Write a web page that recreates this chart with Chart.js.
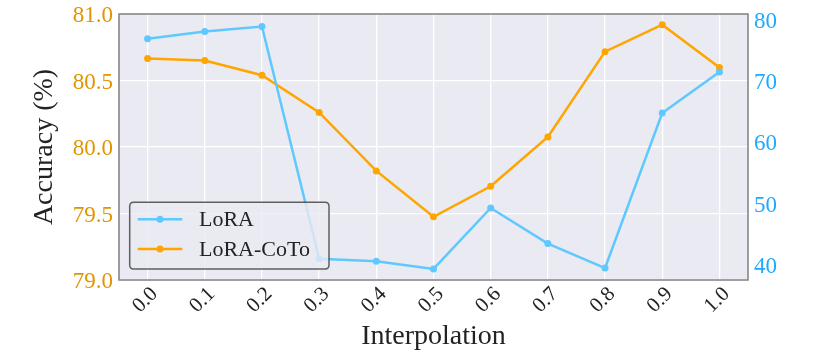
<!DOCTYPE html>
<html>
<head>
<meta charset="utf-8">
<script src="https://cdn.jsdelivr.net/npm/chart.js@4.4.1/dist/chart.umd.min.js"></script>
<style>
  html, body { margin: 0; padding: 0; background: #ffffff; }
  #wrap { width: 826px; height: 356px; }
</style>
</head>
<body>
<div id="wrap"><canvas id="c" width="826" height="356"></canvas></div>
<script>
// ---- data ----
const interpolation = ['0.0', '0.1', '0.2', '0.3', '0.4', '0.5', '0.6', '0.7', '0.8', '0.9', '1.0'];
const loraAccuracy = [76.9, 78.1, 78.9, 41.0, 40.6, 39.35, 49.3, 43.5, 39.5, 64.8, 71.5];
const loraCotoAccuracy = [80.665, 80.65, 80.54, 80.26, 79.82, 79.475, 79.705, 80.075, 80.717, 80.92, 80.597];
const leftTicks = [79.0, 79.5, 80.0, 80.5, 81.0];
const rightTicks = [40, 50, 60, 70, 80];
const seriesNames = ['LoRA', 'LoRA-CoTo'];

const FONT = "'Liberation Serif', 'Times New Roman', serif";
const BLUE = '#5FC8FF';
const ORANGE = '#FFA500';

const bgPlugin = {
  id: 'bg',
  beforeDraw(chart) {
    const { ctx, chartArea: a } = chart;
    ctx.save();
    ctx.fillStyle = '#EAEAF2';
    ctx.fillRect(a.left, a.top, a.right - a.left, a.bottom - a.top);
    ctx.restore();
  },
  afterDatasetsDraw(chart) {
    const { ctx, chartArea: a } = chart;
    ctx.save();
    ctx.strokeStyle = '#808080';
    ctx.lineWidth = 1.5;
    ctx.strokeRect(a.left, a.top, a.right - a.left, a.bottom - a.top);
    ctx.restore();
  }
};

function roundRect(ctx, x, y, w, h, r) {
  ctx.beginPath();
  ctx.moveTo(x + r, y);
  ctx.lineTo(x + w - r, y);
  ctx.quadraticCurveTo(x + w, y, x + w, y + r);
  ctx.lineTo(x + w, y + h - r);
  ctx.quadraticCurveTo(x + w, y + h, x + w - r, y + h);
  ctx.lineTo(x + r, y + h);
  ctx.quadraticCurveTo(x, y + h, x, y + h - r);
  ctx.lineTo(x, y + r);
  ctx.quadraticCurveTo(x, y, x + r, y);
  ctx.closePath();
}

const legendPlugin = {
  id: 'innerLegend',
  afterDraw(chart) {
    const { ctx, chartArea: a } = chart;
    const bx = a.left + 10.7, by = a.bottom - 77.7, bw = 199.3, bh = 66.7;
    ctx.save();
    roundRect(ctx, bx, by, bw, bh, 4);
    ctx.fillStyle = 'rgba(234,234,242,0.8)';
    ctx.fill();
    ctx.strokeStyle = 'rgba(60,60,60,0.8)';
    ctx.lineWidth = 1.5;
    ctx.stroke();
    const rows = [by + 17, by + 46.7];
    chart.data.datasets.forEach((ds, i) => {
      const y = rows[i];
      ctx.strokeStyle = ds.borderColor;
      ctx.lineWidth = 2.5;
      ctx.beginPath();
      ctx.moveTo(bx + 8, y);
      ctx.lineTo(bx + 52.6, y);
      ctx.stroke();
      ctx.fillStyle = ds.borderColor;
      ctx.beginPath();
      ctx.arc(bx + 30.3, y, 3.5, 0, Math.PI * 2);
      ctx.fill();
      ctx.fillStyle = '#222222';
      ctx.font = '22px ' + FONT;
      ctx.textBaseline = 'middle';
      ctx.textAlign = 'left';
      ctx.fillText(ds.label, bx + 69.3, y + 1);
    });
    ctx.restore();
  }
};

new Chart(document.getElementById('c'), {
  type: 'line',
  data: {
    labels: interpolation,
    datasets: [
      {
        label: seriesNames[0],
        data: loraAccuracy,
        yAxisID: 'y2',
        borderColor: BLUE,
        backgroundColor: BLUE,
        borderWidth: 2.5,
        pointRadius: 3.5,
        pointBorderWidth: 0,
        pointBackgroundColor: BLUE,
        tension: 0
      },
      {
        label: seriesNames[1],
        data: loraCotoAccuracy,
        yAxisID: 'y',
        borderColor: ORANGE,
        backgroundColor: ORANGE,
        borderWidth: 2.5,
        pointRadius: 3.5,
        pointBorderWidth: 0,
        pointBackgroundColor: ORANGE,
        tension: 0
      }
    ]
  },
  options: {
    responsive: false,
    animation: false,
    devicePixelRatio: 1,
    layout: { padding: { top: 14, left: 0, right: 0, bottom: 0 } },
    plugins: { legend: { display: false }, tooltip: { enabled: false } },
    scales: {
      x: {
        type: 'category',
        offset: true,
        afterFit(s) { s.height = 76; s.paddingLeft = 0; s.paddingRight = 0; },
        grid: { color: '#FFFFFF', lineWidth: 1.3, offset: false, drawTicks: false },
        border: { display: false },
        ticks: {
          minRotation: 45, maxRotation: 45, autoSkip: false,
          padding: 2, labelOffset: 7,
          color: '#222222',
          font: { family: FONT, size: 21 }
        },
        title: {
          display: true, text: 'Interpolation', color: '#222222',
          font: { family: FONT, size: 28 },
          padding: { top: 0, bottom: 3 }
        }
      },
      y: {
        position: 'left',
        min: 79.0, max: 81.0,
        afterFit(s) { s.width = 119; s.paddingTop = 0; s.paddingBottom = 0; },
        afterBuildTicks(s) { s.ticks = leftTicks.map(v => ({ value: v })); },
        grid: { color: '#FFFFFF', lineWidth: 1.3, drawTicks: false },
        border: { display: false },
        ticks: {
          padding: 6, labelOffset: 2,
          color: '#E29400',
          font: { family: FONT, size: 23 },
          callback: v => Number(v).toFixed(1)
        },
        title: {
          display: true, text: 'Accuracy (%)', color: '#222222',
          font: { family: FONT, size: 28 },
          padding: { top: 28, bottom: 0 }
        }
      },
      y2: {
        position: 'right',
        min: 37.55, max: 80.95,
        afterFit(s) { s.width = 78; s.paddingTop = 0; s.paddingBottom = 0; },
        afterBuildTicks(s) { s.ticks = rightTicks.map(v => ({ value: v })); },
        grid: { display: false, drawTicks: false },
        border: { display: false },
        ticks: {
          padding: 6, labelOffset: 2,
          color: '#1EAAFF',
          font: { family: FONT, size: 23 },
          callback: v => String(v)
        }
      }
    }
  },
  plugins: [bgPlugin, legendPlugin]
});
</script>
</body>
</html>
